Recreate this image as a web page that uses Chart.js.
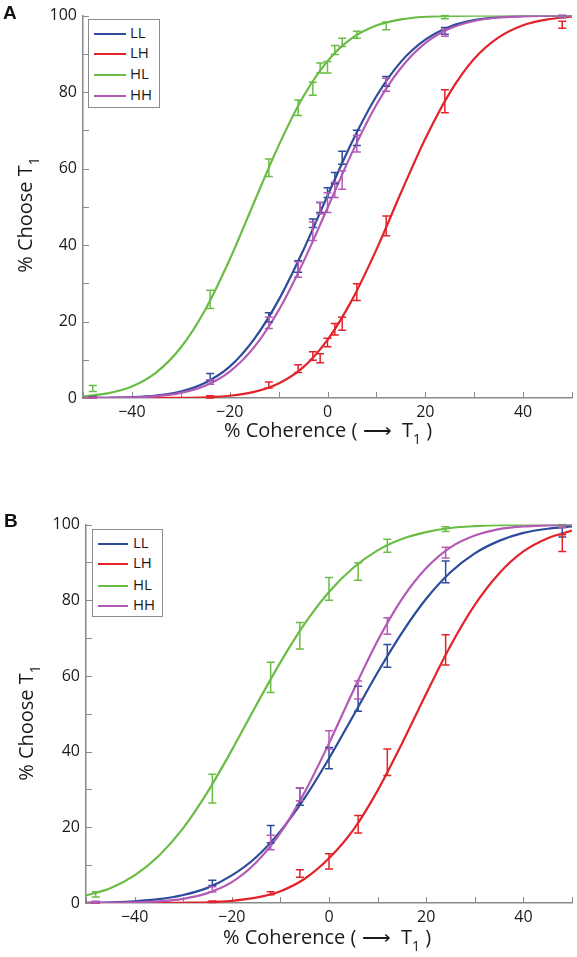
<!DOCTYPE html>
<html lang="en">
<head>
<meta charset="UTF-8">
<title>% Choose T1 vs % Coherence</title>
<script src="https://cdn.jsdelivr.net/npm/chart.js"></script>
<style>
    body { margin: 0; background: #fff; }
    #wrap { position: relative; width: 577px; height: 957px; font-family: "Open Sans", sans-serif; color: #1a1a1a; overflow: hidden; }
    canvas { position: absolute; left: 0; }
    .letter { position: absolute; font: bold 19px/19px "Liberation Sans", Arial, sans-serif; color: #111; }
    .xtitle { position: absolute; width: 300px; text-align: center; font-size: 20px; line-height: 20px; white-space: nowrap; }
    .ytitle { position: absolute; width: 200px; height: 24px; text-align: center; font-size: 20px; line-height: 24px; white-space: nowrap; transform: rotate(-90deg); }
    sub { font-size: 14px; vertical-align: -7px; line-height: 0; }
    .legend { position: absolute; border: 1px solid #8c8c8c; background: #fff; }
    .legend div { position: absolute; left: 5px; height: 20px; line-height: 20px; font-size: 15px; white-space: nowrap; }
    .legend span { display: inline-block; width: 32px; height: 2px; vertical-align: middle; margin-right: 4px; }
</style>
</head>
<body>
<div id="wrap">
    <canvas id="panelA" width="577" height="470" style="top:0"></canvas>
    <canvas id="panelB" width="577" height="466" style="top:509px"></canvas>

    <div class="letter" style="left:3px;top:3px">A</div>
    <div class="letter" style="left:4px;top:511px">B</div>

    <div class="ytitle" style="left:-75px;top:203px">% Choose T<sub>1</sub></div>
    <div class="ytitle" style="left:-74px;top:711px">% Choose T<sub>1</sub></div>
    <div class="xtitle" style="left:178px;top:420px">% Coherence ( &#x27F6;&nbsp; T<sub>1</sub> )</div>
    <div class="xtitle" style="left:177px;top:927px">% Coherence ( &#x27F6;&nbsp; T<sub>1</sub> )</div>

    <div class="legend" id="legendA" style="left:88px;top:19px;width:70px;height:87px"></div>
    <div class="legend" id="legendB" style="left:92px;top:529px;width:69px;height:86px"></div>
</div>

<script>
    // coherence levels of the data points
    const cohA = [-48, -24, -12, -6, -3, -1.5, 0, 1.5, 3, 6, 12, 24, 48];
    const cohB = [-48, -24, -12, -6, 0, 6, 12, 24, 48];

    // sample positions of the fitted curves
    const fitX = [-50, -45, -40, -35, -30, -25, -20, -15, -10, -5, 0, 5, 10, 15, 20, 25, 30, 35, 40, 45, 50];

    const seriesNames = ['LL', 'LH', 'HL', 'HH'];
    const seriesColors = ['#2d4b9c', '#e3232a', '#69bd45', '#b35ab5'];

    // panel A fitted curves (% choose T1)
    const fitA_LL = [0.02, 0.07, 0.22, 0.66, 1.7, 4.0, 8.2, 15.4, 25.6, 38.5, 52.9, 66.9, 78.9, 87.9, 93.7, 97.1, 98.8, 99.6, 99.9, 100, 100];
    const fitA_LH = [0, 0, 0, 0.01, 0.05, 0.19, 0.59, 1.6, 3.8, 8.0, 15.2, 25.6, 38.8, 53.6, 67.8, 79.8, 88.7, 94.3, 97.5, 99.0, 99.7];
    const fitA_HL = [0.41, 1.2, 3.0, 6.7, 13.2, 23.1, 36.2, 51.2, 66.0, 78.7, 88.1, 94.1, 97.4, 99.0, 99.7, 99.9, 100, 100, 100, 100, 100];
    const fitA_HH = [0.01, 0.05, 0.16, 0.49, 1.35, 3.2, 6.9, 13.3, 22.9, 35.4, 49.7, 64.1, 76.7, 86.3, 92.8, 96.6, 98.6, 99.5, 99.8, 100, 100];

    // panel A data points and error half-widths
    const ptsA_LL = [0.2, 5.5, 21.1, 34.4, 45.7, 49.8, 53.7, 57.5, 62.8, 68, 82.8, 96, 99.8];
    const errA_LL = [0.2, 0.9, 1.2, 1.5, 1.1, 1.3, 1.3, 1.5, 1.7, 2, 1.3, 0.9, 0.3];
    const ptsA_LH = [0, 0.3, 3.4, 7.7, 11, 10.4, 14.5, 18, 19.4, 27.7, 45, 77.6, 97.6];
    const errA_LH = [0.1, 0.3, 0.8, 1, 1.1, 1.2, 1.1, 1.5, 1.7, 2.2, 2.6, 3, 0.9];
    const ptsA_HL = [2.5, 25.8, 60.2, 75.9, 80.9, 86.3, 86.5, 91, 93, 95, 97.3, 99.6, 100];
    const errA_HL = [0.8, 2.4, 2.3, 2, 1.7, 1.3, 1.5, 1.2, 1.1, 0.9, 1, 0.4, 0.1];
    const ptsA_HH = [0.1, 4.2, 19.7, 33.6, 43.6, 49.6, 51.1, 54.4, 57, 66.5, 81.9, 95.5, 99.8];
    const errA_HH = [0.1, 0.6, 1.5, 2, 2.4, 1.5, 2.6, 2, 2.4, 2.2, 1.7, 0.9, 0.3];

    // panel B fitted curves
    const fitB_LL = [0.07, 0.19, 0.45, 1.0, 2.1, 4.0, 7.3, 12.1, 19.0, 27.8, 38.2, 49.5, 60.9, 71.4, 80.4, 87.4, 92.4, 95.7, 97.8, 98.9, 99.5];
    const fitB_LH = [0, 0, 0.01, 0.02, 0.07, 0.2, 0.57, 1.4, 3.1, 6.4, 11.8, 19.3, 29.7, 42.1, 55.3, 68.0, 78.8, 87.1, 92.9, 96.4, 98.4];
    const fitB_HL = [2.0, 3.9, 7.3, 12.5, 19.8, 29.3, 40.4, 52.2, 63.6, 73.8, 82.2, 88.6, 93.2, 96.2, 98.0, 99.1, 99.6, 99.85, 100, 100, 100];
    const fitB_HH = [0.01, 0.04, 0.14, 0.41, 1.1, 2.6, 5.5, 10.7, 18.5, 29.3, 42.2, 56.1, 69.3, 80.3, 88.5, 94.0, 97.1, 98.8, 99.5, 99.8, 100];

    // panel B data points and error half-widths
    const ptsB_LL = [0.2, 5.3, 18.2, 28.1, 38.3, 54, 65.3, 87.5, 98.2];
    const errB_LL = [0.2, 0.7, 2.3, 2.3, 2.8, 3.3, 3, 2.9, 1.5];
    const ptsB_LH = [0, 0.3, 2.6, 7.8, 11, 20.8, 37.2, 66.9, 95.1];
    const errB_LH = [0.1, 0.2, 0.4, 1, 2, 2.3, 3.5, 4, 2.2];
    const ptsB_HL = [2.3, 30.2, 59.6, 70.6, 83, 87.6, 94.4, 98.8, 99.8];
    const errB_HL = [0.7, 3.8, 4, 3.5, 3, 2.3, 1.7, 0.6, 0.2];
    const ptsB_HH = [0.2, 3.6, 16, 28.7, 43.1, 56.3, 73.2, 92.6, 99.5];
    const errB_HH = [0.2, 0.7, 1.9, 1.7, 2.4, 2.4, 2.2, 1.4, 0.3];

    const axisGrey = '#8a8a8a';
    const tickFont = { family: '"Open Sans", sans-serif', size: 16 };

    // vertical error bars with caps, positioned through the chart scales
    const errorBars = {
        id: 'errorBars',
        afterDatasetsDraw(chart, args, opts) {
            const { ctx, chartArea: ca, scales: { x, y } } = chart;
            ctx.save();
            ctx.beginPath();
            ctx.rect(ca.left, ca.top - 1, ca.right - ca.left, ca.bottom - ca.top + 2);
            ctx.clip();
            ctx.lineWidth = 1.5;
            opts.sets.forEach(s => {
                ctx.strokeStyle = s.color;
                opts.xs.forEach((xv, i) => {
                    const px = x.getPixelForValue(xv);
                    const hi = y.getPixelForValue(s.y[i] + s.e[i]);
                    const lo = y.getPixelForValue(s.y[i] - s.e[i]);
                    ctx.beginPath();
                    ctx.moveTo(px, hi); ctx.lineTo(px, lo);
                    ctx.moveTo(px - 4, hi); ctx.lineTo(px + 4, hi);
                    ctx.moveTo(px - 4, lo); ctx.lineTo(px + 4, lo);
                    ctx.stroke();
                });
            });
            ctx.restore();
        }
    };

    // matlab style tick marks pointing into the plot
    const innerTicks = {
        id: 'innerTicks',
        beforeDatasetsDraw(chart) {
            const { ctx, chartArea: ca, scales: { x, y } } = chart;
            ctx.save();
            ctx.strokeStyle = axisGrey;
            ctx.lineWidth = 1;
            ctx.beginPath();
            y.ticks.forEach(t => {
                const py = Math.round(y.getPixelForValue(t.value)) + 0.5;
                ctx.moveTo(ca.left, py); ctx.lineTo(ca.left + 6, py);
            });
            x.ticks.forEach(t => {
                const px = Math.round(x.getPixelForValue(t.value)) + 0.5;
                ctx.moveTo(px, ca.bottom); ctx.lineTo(px, ca.bottom - 6);
            });
            ctx.stroke();
            ctx.restore();
        }
    };

    function tickLabel(v) {
        if (v % 20 !== 0) return '';
        return v < 0 ? '\u2212' + Math.abs(v) : String(v);
    }

    function buildPanel(canvasId, coh, fits, pts, errs, yWidth, padRight) {
        const datasets = seriesNames.map((name, k) => ({
            label: name,
            data: fitX.map((xv, i) => ({ x: xv, y: fits[k][i] })),
            borderColor: seriesColors[k],
            borderWidth: 2.2,
            pointRadius: 0,
            showLine: true,
            fill: false,
            cubicInterpolationMode: 'monotone',
            order: 3 - k
        }));

        new Chart(document.getElementById(canvasId), {
            type: 'scatter',
            data: { datasets },
            options: {
                responsive: false,
                animation: false,
                events: [],
                layout: { padding: { top: 14, right: padRight, left: 0, bottom: 0 } },
                plugins: {
                    legend: { display: false },
                    tooltip: { enabled: false },
                    errorBars: {
                        xs: coh,
                        sets: seriesNames.map((n, k) => ({ y: pts[k], e: errs[k], color: seriesColors[k] }))
                    }
                },
                scales: {
                    x: {
                        type: 'linear',
                        min: -50,
                        max: 50,
                        grid: { display: false, drawTicks: false },
                        border: { display: true, color: axisGrey, width: 1.5 },
                        ticks: { stepSize: 10, autoSkip: false, maxRotation: 0, padding: 5, color: '#1a1a1a', font: tickFont, callback: tickLabel },
                        afterFit: s => { s.height = 72; }
                    },
                    y: {
                        min: 0,
                        max: 100,
                        grid: { display: false, drawTicks: false },
                        border: { display: true, color: axisGrey, width: 1.5 },
                        ticks: { stepSize: 10, autoSkip: false, padding: 6, color: '#1a1a1a', font: tickFont, callback: tickLabel },
                        afterFit: s => { s.width = yWidth; }
                    }
                }
            },
            plugins: [errorBars, innerTicks]
        });
    }

    function buildLegend(id, rowTops, lineLen, gap) {
        const box = document.getElementById(id);
        seriesNames.forEach((name, k) => {
            const row = document.createElement('div');
            row.style.top = rowTops[k] + 'px';
            row.innerHTML = '<span style="background:' + seriesColors[k] + ';width:' + lineLen + 'px;margin-right:' + gap + 'px"></span>' + name;
            box.appendChild(row);
        });
    }

    buildPanel('panelA', cohA,
        [fitA_LL, fitA_LH, fitA_HL, fitA_HH],
        [ptsA_LL, ptsA_LH, ptsA_HL, ptsA_HH],
        [errA_LL, errA_LH, errA_HL, errA_HH], 83, 1);

    buildPanel('panelB', cohB,
        [fitB_LL, fitB_LH, fitB_HL, fitB_HH],
        [ptsB_LL, ptsB_LH, ptsB_HL, ptsB_HH],
        [errB_LL, errB_LH, errB_HL, errB_HH], 86, 5);

    buildLegend('legendA', [2, 22, 43, 64], 32, 4);
    buildLegend('legendB', [2, 22, 44, 64], 30, 5);
</script>
</body>
</html>
